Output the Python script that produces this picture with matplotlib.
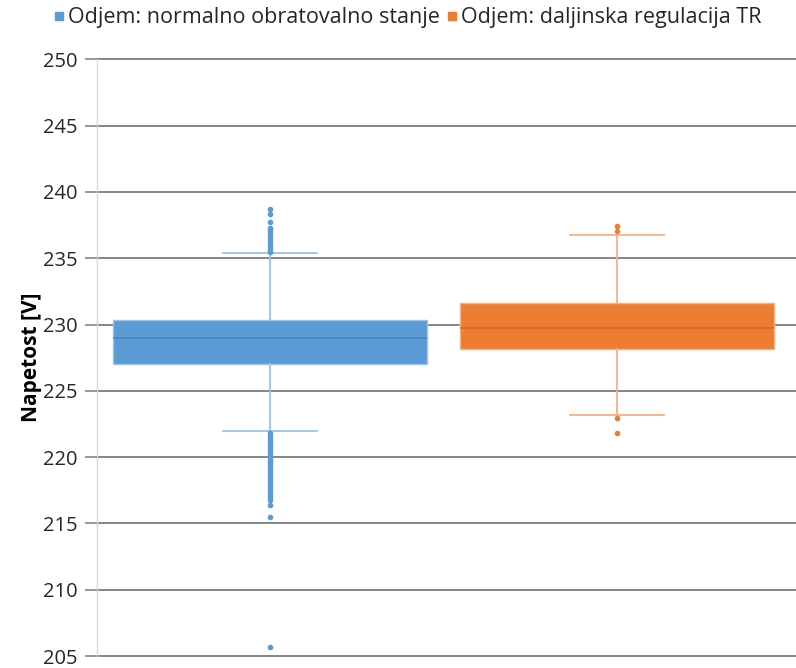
import matplotlib
matplotlib.use("Agg")
import matplotlib.pyplot as plt
from matplotlib.lines import Line2D

plt.rcParams['font.family'] = ['Open Sans', 'DejaVu Sans']

# podatki odčitani s slike
labels = ['Odjem: normalno obratovalno stanje', 'Odjem: daljinska regulacija TR']
colors = ['#5B9BD5', '#ED7D31']
q1 = [227.02, 228.15]
med = [229.0, 229.71]
q3 = [230.34, 231.64]
whis_lo = [221.97, 223.15]
whis_hi = [235.39, 236.75]
fliers_normal = [238.7, 238.3, 237.7, 237.3, 237.1, 236.9, 236.7, 236.5, 236.3,
                 236.1, 235.9, 235.7, 235.5,
                 221.8, 221.6, 221.4, 221.2, 221.0, 220.8, 220.6, 220.4, 220.2,
                 220.0, 219.8, 219.6, 219.4, 219.2, 219.0, 218.8, 218.6, 218.4,
                 218.2, 218.0, 217.8, 217.6, 217.4, 217.2, 217.0, 216.8,
                 216.4, 215.5, 205.66]
fliers_tr = [237.45, 237.05, 222.93, 221.8]
fliers = [fliers_normal, fliers_tr]
yticks = [205, 210, 215, 220, 225, 230, 235, 240, 245, 250]

stats = []
for i in range(len(labels)):
    stats.append({'label': labels[i], 'q1': q1[i], 'med': med[i], 'q3': q3[i],
                  'whislo': whis_lo[i], 'whishi': whis_hi[i], 'fliers': fliers[i]})

edge_col = ['#9DC3E6', '#F4B183']
med_col = ['#4A86C4', '#D4692A']

fig = plt.figure(figsize=(7.96, 6.68), dpi=100)
ax = fig.add_axes([97 / 796, 1 - 656 / 668, 1 - 97 / 796, (656 - 59.3) / 668])

for i in range(len(stats)):
    ax.bxp([stats[i]], positions=[[0.2475, 0.744][i]], widths=0.448,
           capwidths=0.134, patch_artist=True, showfliers=True,
           boxprops=dict(facecolor=colors[i], edgecolor=edge_col[i], linewidth=1.0),
           medianprops=dict(color=med_col[i], linewidth=1.2),
           whiskerprops=dict(color=edge_col[i], linewidth=1.3),
           capprops=dict(color=edge_col[i], linewidth=1.3),
           flierprops=dict(marker='o', markersize=3, markerfacecolor=colors[i],
                           markeredgecolor=colors[i], linestyle='none'),
           zorder=3)

ax.set_xlim(0, 1)
ax.set_ylim(205, 250)
ax.set_yticks(yticks)
ax.set_xticks([])
ax.tick_params(axis='y', length=9, width=1.2, color='#868686', labelsize=14.5,
               labelcolor='#262626', pad=5)
ax.yaxis.grid(True, color='#868686', linewidth=1.4, zorder=0)
ax.set_axisbelow(True)
for gl in ax.get_ygridlines():
    gl.set_clip_on(False)
for s in ['top', 'right', 'bottom']:
    ax.spines[s].set_visible(False)
ax.spines['left'].set_color('#D9D9D9')
ax.spines['left'].set_linewidth(1.0)

ax.set_ylabel('Napetost [V]', fontsize=15, fontweight='bold', color='#000000', labelpad=1)

handles = [Line2D([], [], marker='s', linestyle='none', markersize=6,
                  markerfacecolor=c, markeredgecolor=c) for c in colors]
fig.legend(handles, labels, loc='center', bbox_to_anchor=(406 / 796, 1 - 18 / 668),
           ncol=2, frameon=False, fontsize=15.5, handletextpad=0.0,
           columnspacing=0.2, handlelength=0.8, labelcolor='#262626')

fig.savefig('out.png', dpi=100)
